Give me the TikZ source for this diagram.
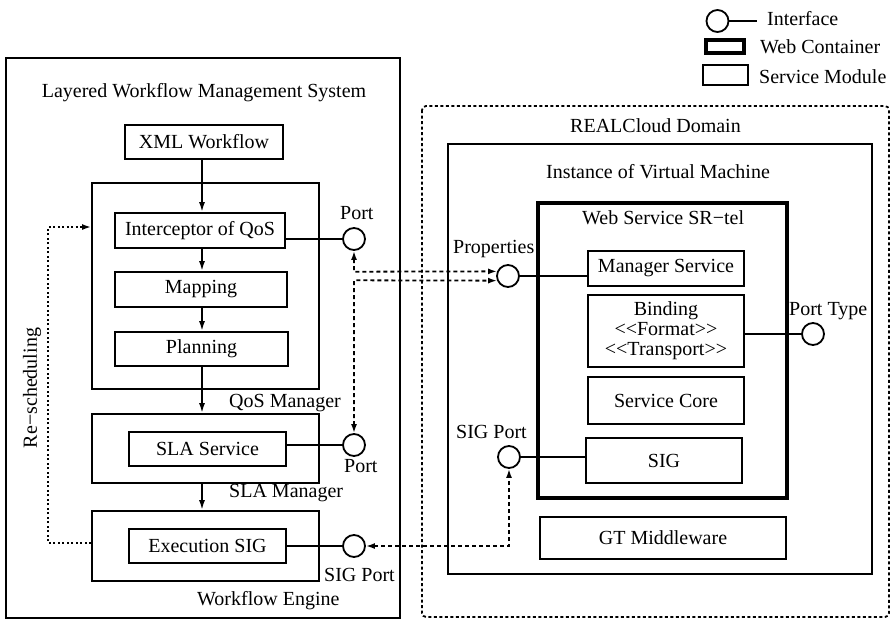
\documentclass[tikz,border=0pt]{standalone}
\usepackage{fontspec}
\setmainfont{Liberation Serif}
\usetikzlibrary{arrows.meta}
\begin{document}
\begin{tikzpicture}[x=1pt,y=-1pt,
  every node/.style={font=\fontsize{20}{21}\selectfont},
  box/.style={draw,line width=1.8pt,rectangle,inner sep=0pt},
  thickbox/.style={draw,line width=4pt,rectangle,inner sep=0pt},
  port/.style={draw,line width=1.8pt,circle,minimum size=22pt,inner sep=0pt},
  lbl/.style={anchor=base west,inner sep=0pt},
  link/.style={line width=1.8pt},
  flow/.style={line width=1.8pt,-{Latex[length=10pt,width=6pt]}},
  dlink/.style={line width=1.8pt,dash pattern=on 4pt off 3pt,{Latex[length=9pt,width=6pt]}-{Latex[length=9pt,width=6pt]}},
  rsline/.style={line width=1.8pt,dash pattern=on 2pt off 2.5pt,-{Latex[length=9pt,width=6pt]}},
]
\useasboundingbox (0,0) rectangle (892,619);

% ---------- Legend ----------
\node[port] (lgport) at (717.5,21) {};
\coordinate (lgend) at (757,21);
\draw[link] (lgport.east) -- (lgend);
\node[lbl] (lgi) at (767,25) {Interface};
\node[thickbox,minimum width=38pt,minimum height=13pt] (lgwc) at (725,46.5) {};
\node[lbl] (lgwct) at (760,53) {Web Container};
\node[box,minimum width=45pt,minimum height=20pt] (lgsm) at (725.5,75) {};
\node[lbl] (lgsmt) at (759,83) {Service Module};

% ---------- Left: Layered Workflow Management System ----------
\node[box,minimum width=394pt,minimum height=560pt] (lwms) at (203,338) {};
\node[lbl,anchor=base] (lwmst) at (204,97) {Layered Workflow Management System};
\node[box,minimum width=158pt,minimum height=34pt] (xml) at (204,142) {XML Workflow};

\node[box,minimum width=227pt,minimum height=206pt] (qos) at (205.5,286) {};
\node[box,minimum width=170pt,minimum height=35pt] (icp) at (200,230.5) {Interceptor of QoS};
\node[box,minimum width=172pt,minimum height=35pt] (map) at (201,289.5) {Mapping};
\node[box,minimum width=173pt,minimum height=34pt] (plan) at (201.5,349) {Planning};
\node[lbl] (qost) at (229,407) {QoS Manager};

\node[box,minimum width=227pt,minimum height=69pt] (sla) at (205.5,448.5) {};
\node[box,minimum width=157pt,minimum height=34pt] (slas) at (207.5,449) {SLA Service};
\node[lbl] (slat) at (229,497) {SLA Manager};

\node[box,minimum width=227pt,minimum height=70pt] (we) at (205.5,546) {};
\node[box,minimum width=157pt,minimum height=34pt] (exe) at (207.5,546) {Execution SIG};
\node[lbl] (wet) at (197,605) {Workflow Engine};

\node[port] (p1) at (354,239) {};
\node[lbl] (p1t) at (340,219) {Port};
\node[port] (p2) at (354,445) {};
\node[lbl] (p2t) at (344,472) {Port};
\node[port] (p3) at (354,546) {};
\node[lbl] (p3t) at (324,581) {SIG Port};

\draw[flow] (xml.south -| 202,0) -- (icp.north -| 202,0);
\draw[flow] (icp.south -| 202,0) -- (map.north -| 202,0);
\draw[flow] (map.south -| 202,0) -- (plan.north -| 202,0);
\draw[flow] (plan.south -| 202,0) -- (sla.north -| 202,0);
\draw[flow] (sla.south -| 202,0) -- (we.north -| 202,0);

\draw[link] (icp.east |- p1.west) -- (p1.west);
\draw[link] (slas.east |- p2.west) -- (p2.west);
\draw[link] (exe.east |- p3.west) -- (p3.west);

\coordinate (rsx) at (48,0);
\coordinate (rsy) at (0,227);
\draw[rsline] (we.west |- 0,543) -- (rsx |- 0,543) -- (rsx |- rsy) -- (qos.west |- rsy);
\node[rotate=90,inner sep=0pt] (rst) at (32,388) {Re−scheduling};

% ---------- Right: REALCloud Domain ----------
\draw[line width=1.8pt,dash pattern=on 3pt off 2.5pt,rounded corners=4pt] (422,106) rectangle (889,617);
\node[lbl] (rct) at (570,132) {REALCloud Domain};
\node[box,minimum width=424pt,minimum height=430pt] (vm) at (660,359) {};
\node[lbl] (vmt) at (546,178) {Instance of Virtual Machine};
\node[thickbox,minimum width=249pt,minimum height=295pt] (ws) at (662.5,350.5) {};
\node[lbl] (wst) at (582,224) {Web Service SR−tel};
\node[box,minimum width=156pt,minimum height=35pt] (mgr) at (666,268.5) {Manager Service};
\node[box,minimum width=156pt,minimum height=72pt,align=center] (bind) at (666,331) {Binding\\[-1pt]<\kern0pt<Format>\kern0pt>\\[-1pt]<\kern0pt<Transport>\kern0pt>};
\node[box,minimum width=156pt,minimum height=47pt] (core) at (666,400.5) {Service Core};
\node[box,minimum width=156pt,minimum height=45pt] (sig) at (664,460.5) {SIG};
\node[box,minimum width=246pt,minimum height=42pt] (gt) at (663,538) {GT Middleware};

\node[port] (props) at (508,276) {};
\node[lbl] (propst) at (453,253) {Properties};
\node[port] (sigp) at (509,457) {};
\node[lbl] (sigpt) at (456,438) {SIG Port};
\node[port] (pt) at (813,334) {};
\node[lbl] (ptt) at (789,315) {Port Type};

\draw[link] (props.east) -- (mgr.west |- props.east);
\draw[link] (sigp.east) -- (sig.west |- sigp.east);
\draw[link] (bind.east |- pt.west) -- (pt.west);

% ---------- Dashed interface links ----------
\coordinate (h1) at (0,271.7);
\coordinate (h2) at (0,280.3);
\draw[dlink] (p1.south) -- (p1.south |- h1) -- (props.157);
\draw[dlink] (p2.north) -- (p2.north |- h2) -- (props.203);
\draw[dlink] (p3.east) -- (p3.east -| sigp.south) -- (sigp.south);

\end{tikzpicture}
\end{document}
